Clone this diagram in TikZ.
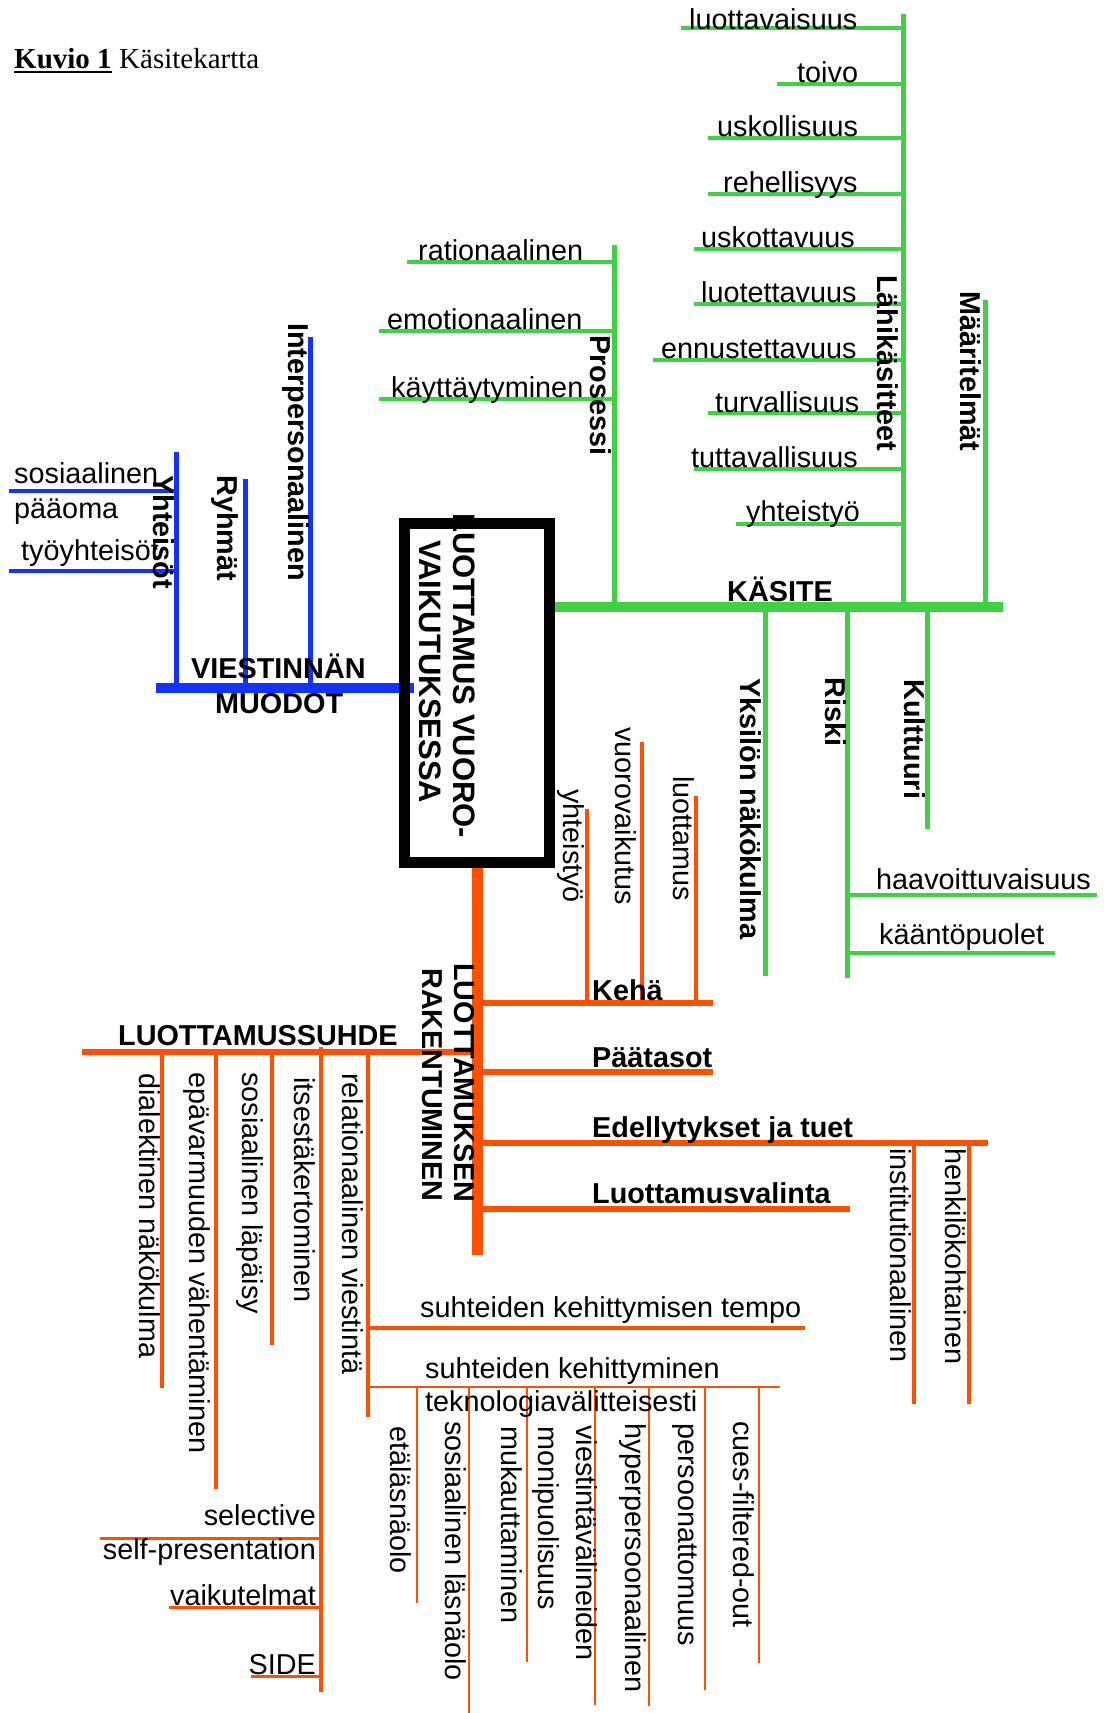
\documentclass[tikz,border=0pt]{standalone}
\usepackage{fontspec}
\setmainfont{Liberation Sans}
\newfontfamily\serifttl{Liberation Serif}
\definecolor{mgreen}{RGB}{60,210,66}
\definecolor{mblue}{RGB}{20,50,255}
\definecolor{morange}{RGB}{255,80,0}
\tikzset{
  lab/.style={inner sep=0pt, font=\fontsize{28.8}{34}\selectfont},
  blab/.style={inner sep=0pt, font=\fontsize{28.8}{34}\selectfont\bfseries},
  hl/.style={lab, anchor=base west},
  hr/.style={lab, anchor=base east},
  hbl/.style={blab, anchor=base west},
  rl/.style={lab, rotate=-90, anchor=north west},
  rbl/.style={blab, rotate=-90, anchor=north west},
  gmain/.style={mgreen, line width=10pt},
  gsub/.style={mgreen, line width=5pt},
  gleaf/.style={mgreen, line width=3.5pt},
  bmain/.style={mblue, line width=10pt},
  bsub/.style={mblue, line width=5pt},
  bleaf/.style={mblue, line width=4pt},
  omain/.style={morange, line width=11pt},
  obranch/.style={morange, line width=6pt},
  osub/.style={morange, line width=4pt},
  othin/.style={morange, line width=2.5pt},
}
\begin{document}
\begin{tikzpicture}[x=1pt, y=-1pt]
\fill[white] (0,0) rectangle (1106,1713);
\useasboundingbox (0,0) rectangle (1106,1713);

% ---------- title ----------
\node[anchor=base west, inner sep=0pt, font=\serifttl\fontsize{29}{34}\selectfont\bfseries] (t1) at (14,68) {Kuvio 1};
\node[anchor=base west, inner sep=0pt, font=\serifttl\fontsize{29}{34}\selectfont] (t2) at (119,68) {Käsitekartta};
\draw[line width=2pt] ([yshift=-4pt]t1.base west) -- ([yshift=-4pt]t1.base east);

% ---------- green: KÄSITE ----------
\coordinate (kasL) at (552,607);
\coordinate (kasR) at (1003,607);
\draw[gmain] (kasL) -- (kasR);
\draw[gsub] (614,245) coordinate (prosT) -- (prosT |- kasL);
\draw[gsub] (903,14) coordinate (lahT) -- (lahT |- kasL);
\draw[gsub] (985,300) coordinate (maaT) -- (maaT |- kasL);
\draw[gsub] (765,976) coordinate (yksB) -- (yksB |- kasL);
\draw[gsub] (847,978) coordinate (risB) -- (risB |- kasL);
\draw[gsub] (927,829) coordinate (kulB) -- (kulB |- kasL);

\foreach \t/\tx/\lx/\ly/\bl [count=\i] in {
  luottavaisuus/689/681/28/29, toivo/797/777/84/82, uskollisuus/717/708/138/136,
  rehellisyys/723/708/194/192, uskottavuus/701/694/249/247, luotettavuus/701/694/304/302,
  ennustettavuus/661/653/360/358, turvallisuus/715/708/413/412,
  tuttavallisuus/691/694/469/467, yhteistyö/746/736/524/521} {
  \draw[gleaf] (\lx,\ly) coordinate (gla\i) -- (gla\i -| lahT);
  \node[hl] (gl\i) at (\tx,\bl) {\t};
}
\foreach \t/\tx/\lx/\ly [count=\i] in {
  rationaalinen/418/407/262, emotionaalinen/387/379/331, käyttäytyminen/391/379/399} {
  \draw[gleaf] (\lx,\ly) coordinate (pla\i) -- (pla\i -| prosT);
  \node[hl] (pl\i) at (\tx,\ly-2) {\t};
}
\draw[gleaf] (risB |- 0,895) coordinate (haaL) -- (1097,895);
\draw[gleaf] (risB |- 0,953) coordinate (kaaL) -- (1055,953);
\node[hl] (haa) at (876,889) {haavoittuvaisuus};
\node[hl] (kaa) at (879,944) {kääntöpuolet};

\node[hbl] (kasite) at (727,601) {KÄSITE};
\node[rbl] (pros) at (612,335) {Prosessi};
\node[rbl] (lah) at (899,275) {Lähikäsitteet};
\node[rbl] (maa) at (982,291) {Määritelmät};
\node[rbl] (yks) at (762,678) {Yksilön näkökulma};
\node[rbl] (ris) at (847,677) {Riski};
\node[rbl] (kul) at (926,679) {Kulttuuri};

% ---------- blue: VIESTINNÄN MUODOT ----------
\coordinate (viL) at (156,688);
\coordinate (viR) at (414,688);
\draw[bmain] (viL) -- (viR);
\draw[bsub] (176,452) coordinate (yhtT) -- (yhtT |- viL);
\draw[bsub] (245,479) coordinate (ryhT) -- (ryhT |- viL);
\draw[bsub] (310,337) coordinate (intT) -- (intT |- viL);
\draw[bleaf] (9,491) coordinate (sosL) -- (sosL -| yhtT);
\draw[bleaf] (9,571) coordinate (tyoL) -- (tyoL -| yhtT);
\node[hl] (sos1) at (14,483) {sosiaalinen};
\node[hl] (sos2) at (14,518) {pääoma};
\node[hl] (tyo) at (21,560) {työyhteisöt};
\node[rbl] (yht) at (175,475) {Yhteisöt};
\node[rbl] (ryh) at (239,475) {Ryhmät};
\node[rbl] (int) at (310,323) {Interpersonaalinen};
\node[hbl] (vi1) at (191,678) {VIESTINNÄN};
\node[hbl] (vi2) at (215,713) {MUODOT};

% ---------- orange: LUOTTAMUKSEN RAKENTUMINEN ----------
\coordinate (orT) at (477,867);
\coordinate (orB) at (477,1255);
\draw[omain] (orT) -- (orB);
\draw[obranch] (orT |- 0,1003) coordinate (kehL) -- (713,1003) coordinate (kehR);
\draw[obranch] (orT |- 0,1072) coordinate (paaL) -- (713,1072);
\draw[obranch] (orT |- 0,1143) coordinate (edeL) -- (988,1143);
\draw[obranch] (orT |- 0,1209) coordinate (valL) -- (850,1209);
\draw[obranch] (82,1052) coordinate (suhL) -- (suhL -| orT);

\draw[osub] (587,809) coordinate (k1) -- (k1 |- kehL);
\draw[osub] (642,742) coordinate (k2) -- (k2 |- kehL);
\draw[osub] (696,796) coordinate (k3) -- (k3 |- kehL);
\draw[osub] (914,1404) coordinate (e1) -- (e1 |- edeL);
\draw[osub] (969,1404) coordinate (e2) -- (e2 |- edeL);

\draw[osub] (162,1388) coordinate (s1) -- (s1 |- suhL);
\draw[osub] (216,1489) coordinate (s2) -- (s2 |- suhL);
\draw[osub] (272,1345) coordinate (s3) -- (s3 |- suhL);
\draw[osub] (321,1692) coordinate (s4) -- (321,1047);
\draw[osub] (368,1417) coordinate (s5) -- (s5 |- suhL);

\draw[osub] (s5 |- 0,1328) coordinate (tempoL) -- (805,1328);
\draw[othin] (s5 |- 0,1387) coordinate (kehiL) -- (780,1387);
\foreach \x/\yb in {417/1603, 469/1713, 527/1662, 595/1705, 649/1706, 705/1690, 759/1663} {
  \draw[othin] (\x,\yb) -- (\x,1386);
}
\draw[othin, line width=3pt] (100,1538) coordinate (selL) -- (selL -| s4);
\draw[othin, line width=3pt] (169,1607) coordinate (vaiL) -- (vaiL -| s4);
\draw[othin, line width=3pt] (251,1676) coordinate (sidL) -- (sidL -| s4);

\node[rbl] (luo1) at (475,963) {LUOTTAMUKSEN};
\node[rbl] (luo2) at (443,968) {RAKENTUMINEN};
\node[hbl] (keha) at (592,1000) {Kehä};
\node[hbl] (paat) at (592,1067) {Päätasot};
\node[hbl] (edel) at (592,1137) {Edellytykset ja tuet};
\node[hbl] (valin) at (592,1203) {Luottamusvalinta};
\node[hbl] (suhde) at (118,1045) {LUOTTAMUSSUHDE};

\node[rl] (kt1) at (585,789) {yhteistyö};
\node[rl] (kt2) at (637,727) {vuorovaikutus};
\node[rl] (kt3) at (695,776) {luottamus};
\node[rl] (et1) at (912,1148) {institutionaalinen};
\node[rl] (et2) at (967,1148) {henkilökohtainen};

\node[rl] (st1) at (161,1073) {dialektinen näkökulma};
\node[rl] (st2) at (211,1072) {epävarmuuden vähentäminen};
\node[rl] (st3) at (264,1072) {sosiaalinen läpäisy};
\node[rl] (st4) at (316,1077) {itsestäkertominen};
\node[rl] (st5) at (364,1073) {relationaalinen viestintä};

\node[hl] (tempo) at (420,1317) {suhteiden kehittymisen tempo};
\node[hl] (kehi1) at (425,1378) {suhteiden kehittyminen};
\node[hl] (kehi2) at (425,1411) {teknologiavälitteisesti};

\node[rl] (v1) at (412,1426) {etäläsnäolo};
\node[rl] (v2) at (467,1421) {sosiaalinen läsnäolo};
\node[rl] (v3) at (523,1426) {mukauttaminen};
\node[rl] (v4) at (560,1426) {monipuolisuus};
\node[rl] (v5) at (598,1425) {viestintävälineiden};
\node[rl] (v6) at (647,1423) {hyperpersoonaalinen};
\node[rl] (v7) at (697,1423) {persoonattomuus};
\node[rl] (v8) at (755,1421) {cues-filtered-out};

\node[hr] (sel1) at (316,1525) {selective};
\node[hr] (sel2) at (316,1559) {self-presentation};
\node[hr] (vaik) at (316,1605) {vaikutelmat};
\node[hr] (side) at (316,1674) {SIDE};

% ---------- central box ----------
\node[draw, line width=11pt, minimum width=145pt, minimum height=339pt, inner sep=0pt] (core) at (476.5,692.5) {};
\node[rbl, font=\fontsize{31}{34}\selectfont\bfseries] (c1) at (475,513) {LUOTTAMUS VUORO-};
\node[rbl, font=\fontsize{31}{34}\selectfont\bfseries] (c2) at (441,540) {VAIKUTUKSESSA};
\end{tikzpicture}
\end{document}
